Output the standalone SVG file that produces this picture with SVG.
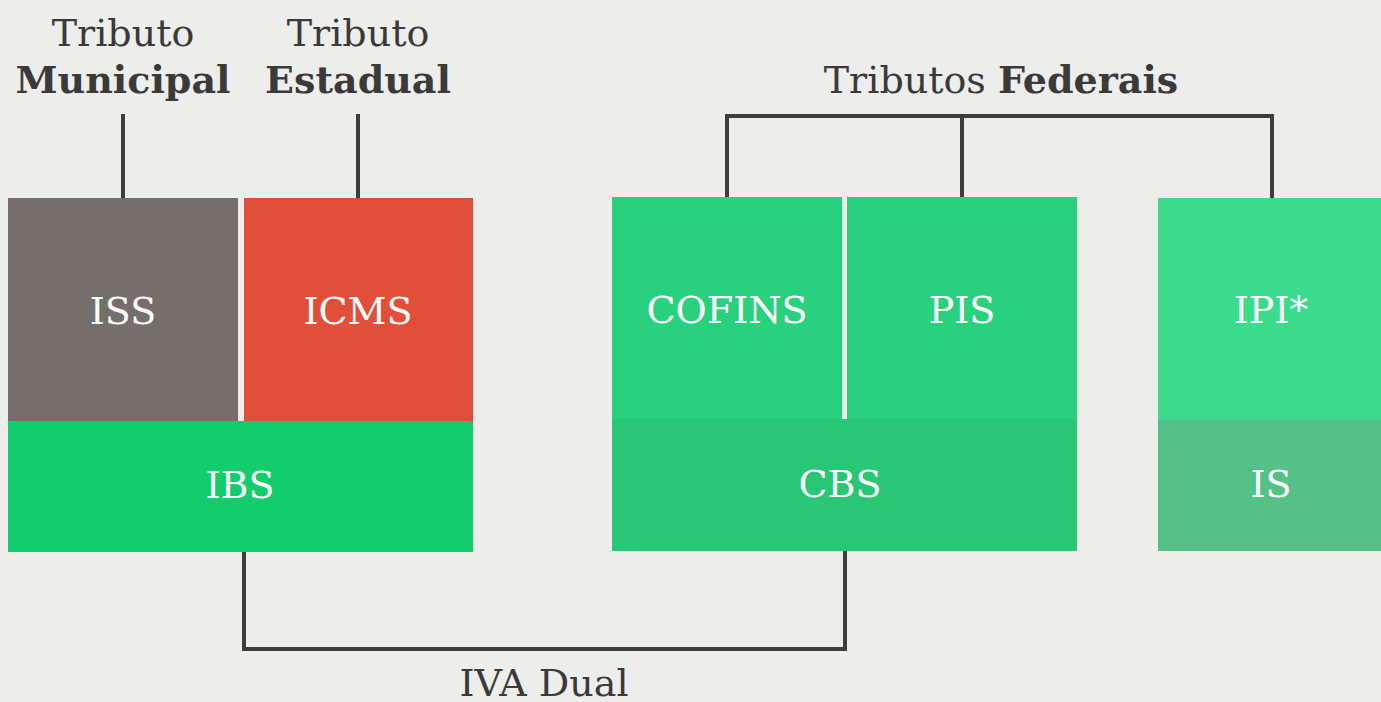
<svg xmlns="http://www.w3.org/2000/svg" width="1381" height="702" viewBox="0 0 1381 702">
<style>
.t{font-family:"DejaVu Serif","Liberation Serif",serif;fill:#3a3a3a;text-anchor:middle;font-size:38px}
.b{font-weight:bold}
.w{font-family:"DejaVu Serif","Liberation Serif",serif;fill:#ffffff;text-anchor:middle;font-size:38px}
.ln{fill:none;stroke:#3d3d3d;stroke-width:4}
</style>
<rect width="1381" height="702" fill="#ededeb"/>
<g id="connectors">
<line class="ln" x1="123" y1="114" x2="123" y2="198"/>
<line class="ln" x1="358" y1="114" x2="358" y2="198"/>
<polyline class="ln" points="727,197 727,116 1272,116 1272,198"/>
<line class="ln" x1="962" y1="116" x2="962" y2="197"/>
<polyline class="ln" points="244,552 244,649 845,649 845,551"/>
</g>
<g id="label-municipal">
<text class="t" x="123" y="46">Tributo</text>
<text class="t b" x="123" y="93">Municipal</text>
</g>
<g id="label-estadual">
<text class="t" x="358" y="46">Tributo</text>
<text class="t b" x="358" y="93">Estadual</text>
</g>
<g id="label-federais">
<text class="t" x="1001" y="93">Tributos <tspan class="b">Federais</tspan></text>
</g>
<g id="iss"><rect x="8" y="198" width="230" height="223" fill="#756f6c"/><text class="w" x="123" y="324">ISS</text></g>
<g id="icms"><rect x="244" y="198" width="229" height="223" fill="#e14f3a"/><text class="w" x="358" y="324">ICMS</text></g>
<g id="ibs"><rect x="8" y="421" width="465" height="131" fill="#13cc6c"/><text class="w" x="240" y="498">IBS</text></g>
<g id="cofins"><rect x="612" y="197" width="230" height="222" fill="#29d17f"/><text class="w" x="727" y="323">COFINS</text></g>
<g id="pis"><rect x="847" y="197" width="230" height="222" fill="#29d17f"/><text class="w" x="962" y="323">PIS</text></g>
<g id="cbs"><rect x="612" y="419" width="465" height="132" fill="#29c775"/><text class="w" x="840" y="497">CBS</text></g>
<g id="ipi"><rect x="1158" y="198" width="223" height="222" fill="#3adb8b"/><text class="w" x="1271" y="323">IPI*</text></g>
<g id="is"><rect x="1158" y="420" width="223" height="131" fill="#55c187"/><text class="w" x="1271" y="497">IS</text></g>
<g id="label-iva">
<text class="t" x="544" y="696" font-size="39">IVA Dual</text>
</g>
</svg>
